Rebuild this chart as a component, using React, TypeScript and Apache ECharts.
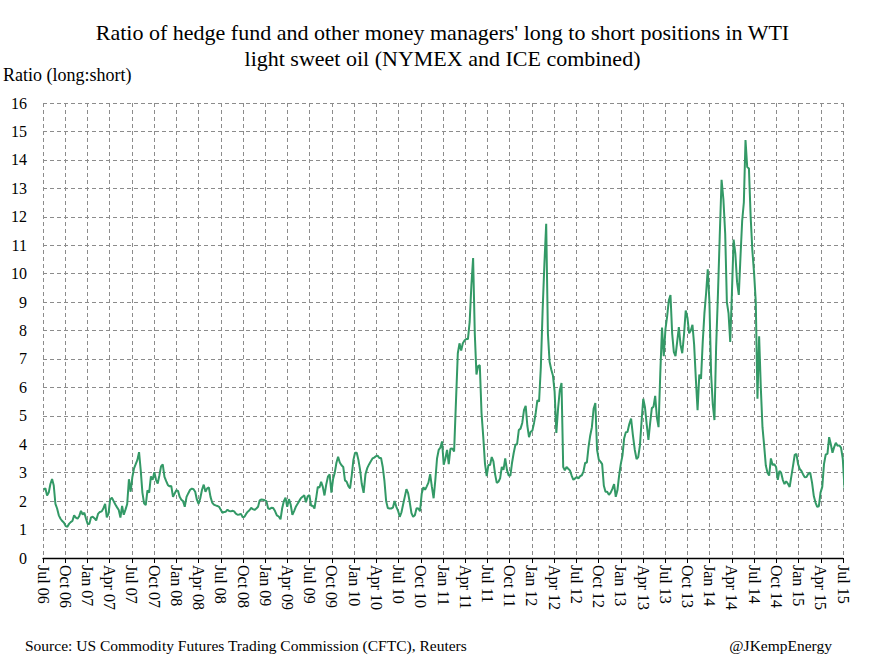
import React, { useEffect, useRef } from 'react';
import * as echarts from 'echarts';

const titleLines = [
  "Ratio of hedge fund and other money managers' long to short positions in WTI",
  'light sweet oil (NYMEX and ICE combined)',
];
const yAxisTitle = 'Ratio (long:short)';
const sourceText = 'Source: US Commodity Futures Trading Commission (CFTC), Reuters';
const handleText = '@JKempEnergy';

const quarterLabels = [
  'Jul 06', 'Oct 06', 'Jan 07', 'Apr 07', 'Jul 07', 'Oct 07', 'Jan 08', 'Apr 08',
  'Jul 08', 'Oct 08', 'Jan 09', 'Apr 09', 'Jul 09', 'Oct 09', 'Jan 10', 'Apr 10',
  'Jul 10', 'Oct 10', 'Jan 11', 'Apr 11', 'Jul 11', 'Oct 11', 'Jan 12', 'Apr 12',
  'Jul 12', 'Oct 12', 'Jan 13', 'Apr 13', 'Jul 13', 'Oct 13', 'Jan 14', 'Apr 14',
  'Jul 14', 'Oct 14', 'Jan 15', 'Apr 15', 'Jul 15',
];

// first weekly report date (Tuesday), then one value per week
const firstReport = { year: 2006, month: 6, day: 4 };
const axisStart = { year: 2006, month: 6 };

const ratioWeekly = [
  2.40, 2.45, 2.2, 2.3, 2.6, 2.78, 2.55, 1.9, 1.74, 1.5,
  1.38, 1.3, 1.24, 1.12, 1.1, 1.2, 1.26, 1.3, 1.5, 1.42,
  1.38, 1.48, 1.66, 1.53, 1.59, 1.38, 1.2, 1.2, 1.43, 1.45,
  1.4, 1.32, 1.55, 1.62, 1.64, 1.75, 1.9, 1.43, 1.55, 2.06,
  2.12, 2.0, 1.88, 1.78, 1.69, 1.42, 1.83, 1.52, 1.7, 1.9,
  2.77, 2.33, 2.85, 3.15, 3.3, 3.45, 3.72, 3.08, 2.3, 1.92,
  1.86, 2.38, 2.3, 2.87, 2.75, 3.02, 2.75, 2.62, 2.9, 3.22,
  3.29, 2.85, 2.7, 2.56, 2.52, 2.53, 2.15, 2.27, 2.38, 2.36,
  2.15, 2.05, 2.0, 1.8, 2.15, 2.28, 2.4, 2.44, 2.42, 2.33,
  2.05, 1.9, 2.1, 2.4, 2.58, 2.33, 2.45, 2.48, 2.15, 1.95,
  1.88, 1.85, 1.83, 1.8, 1.7, 1.59, 1.62, 1.63, 1.7, 1.65,
  1.64, 1.66, 1.64, 1.56, 1.52, 1.53, 1.55, 1.43, 1.45,
  1.55, 1.63, 1.68, 1.76, 1.72, 1.69, 1.74, 1.8, 2.03, 2.06, 2.05,
  2.03, 2.0, 1.75, 1.72, 1.77, 1.76, 1.65, 1.5, 1.46, 1.36,
  1.75, 2.0, 2.12, 1.8, 2.07, 1.88, 1.52, 1.65, 1.8, 1.9,
  2.0, 2.1, 2.15, 2.21, 1.96, 2.17, 2.21, 1.84, 1.84, 1.74,
  2.1, 2.5, 2.48, 2.68, 2.5, 2.2, 2.58, 2.86, 2.94, 2.3,
  2.78, 3.0, 3.35, 3.56, 3.36, 3.26, 3.2, 2.73, 2.68, 2.53,
  2.45, 2.9, 3.45, 3.7, 3.7, 3.45, 3.1, 2.6, 2.29, 2.95,
  3.17, 3.3, 3.4, 3.5, 3.53, 3.58, 3.6, 3.52, 3.52, 3.2,
  2.7, 2.0, 1.76, 1.74, 1.74, 1.77, 2.0, 1.8, 1.66, 1.45,
  1.6, 1.88, 2.15, 2.42, 2.28, 1.95, 1.58, 1.45, 1.5, 1.75,
  1.74, 1.65, 2.27, 2.49, 2.4, 2.52, 2.65, 2.95, 2.5, 2.1,
  2.75, 3.5, 3.8, 3.88, 4.1, 3.28, 3.5, 3.8, 3.3, 3.84,
  3.85, 3.75, 5.5, 7.2, 7.55, 7.3, 7.55, 7.65, 7.7, 7.7,
  8.3, 9.6, 10.55, 7.9, 6.45, 6.75, 6.78, 5.1, 4.27, 3.32,
  2.88, 3.27, 3.27, 3.55, 3.4, 2.95, 2.64, 2.68, 2.8, 3.2,
  3.1, 3.5, 3.1, 2.9, 2.9, 3.35, 3.7, 3.98, 4.0, 4.5,
  4.55, 4.75, 5.2, 5.35, 4.65, 4.25, 4.44, 4.48, 4.75, 5.1,
  5.55, 5.5, 6.7, 8.7, 10.35, 11.75, 7.9, 6.9, 6.63, 6.42,
  5.85, 4.4, 5.25, 5.9, 6.15, 3.2, 3.08, 3.2, 3.14, 3.08,
  2.9, 2.75, 2.8, 2.85, 2.8, 2.88, 2.91, 3.05, 3.35, 3.35,
  3.9, 4.3, 4.6, 5.25, 5.45, 3.8, 3.46, 3.39, 3.3, 2.55,
  2.33, 2.33, 2.22, 2.3, 2.43, 2.6, 2.15, 2.38, 2.9, 3.3,
  3.6, 4.2, 4.42, 4.43, 4.7, 4.9, 4.3, 3.8, 3.48, 3.55,
  3.95, 4.8, 5.6, 5.3, 4.7, 4.15, 4.75, 5.27, 5.32, 5.7,
  4.95, 4.6, 6.5, 8.1, 7.1, 8.05, 8.5, 9.05, 9.25, 7.9,
  7.25, 7.1, 7.6, 8.12, 7.5, 7.2, 7.85, 8.7, 8.45, 7.9,
  8.0, 8.2, 7.5, 6.3, 5.2, 6.45, 6.3, 7.6, 8.6, 9.3,
  10.15, 9.0, 6.47, 5.4, 4.85, 7.4, 9.2, 11.3, 13.3, 12.6,
  11.4, 9.0, 8.6, 7.6, 9.3, 11.2, 10.7, 9.7, 9.25, 10.6,
  11.85, 12.5, 14.7, 13.75, 13.7, 12.0, 10.8, 10.0, 9.0, 5.6,
  7.8, 6.0, 4.6, 3.95, 3.25, 3.0, 2.9, 3.5, 3.27, 3.3,
  3.2, 2.75, 3.06, 3.0, 2.75, 2.6, 2.7, 2.61, 2.5, 2.88,
  3.25, 3.63, 3.66, 3.3, 3.13, 3.06, 2.94, 2.84, 2.85, 2.96,
  3.0, 2.65, 2.17, 1.95, 1.8, 1.82, 2.3, 2.5, 3.3, 3.64,
  3.66, 4.25, 4.0, 3.7, 3.9, 4.05, 3.95, 3.96, 3.88, 3.5,
  2.5, 2.15,
];

const yTicks = { min: 0, max: 16, step: 1 };

const FONT = "'Liberation Serif', 'Times New Roman', serif";

// months elapsed since the start of the axis (fractional) for report k
function monthsOfReport(k: number): number {
  const d = new Date(Date.UTC(firstReport.year, firstReport.month, firstReport.day + 7 * k));
  const y = d.getUTCFullYear();
  const m = d.getUTCMonth();
  const day = d.getUTCDate();
  const dim = new Date(Date.UTC(y, m + 1, 0)).getUTCDate();
  return (y - axisStart.year) * 12 + (m - axisStart.month) + (day - 1) / dim;
}

export default function App() {
  const ref = useRef<HTMLDivElement>(null);

  useEffect(() => {
    if (!ref.current) return;
    const chart = echarts.init(ref.current, undefined, { renderer: 'svg' });
    const data = ratioWeekly.map((v, k) => [monthsOfReport(k), v]);
    const xMax = (quarterLabels.length - 1) * 3;

    chart.setOption({
      animation: false,
      backgroundColor: '#ffffff',
      title: {
        text: titleLines.join('\n'),
        left: 'center',
        top: 14,
        textStyle: {
          fontFamily: FONT,
          fontSize: 22,
          fontWeight: 'normal',
          color: '#000',
          lineHeight: 26,
        },
      },
      grid: { left: 43, right: 42, top: 103, bottom: 107, containLabel: false },
      xAxis: {
        type: 'value',
        min: 0,
        max: xMax,
        interval: 3,
        axisLine: { show: true, lineStyle: { color: '#000', width: 1.3 } },
        axisTick: { show: true, length: 5, lineStyle: { color: '#000', width: 1 } },
        axisLabel: {
          rotate: -90,
          margin: 7,
          fontFamily: FONT,
          fontSize: 16,
          color: '#000',
          formatter: (v: number) => {
            const i = Math.round(v / 3);
            return Math.abs(v - i * 3) < 1e-6 ? quarterLabels[i] ?? '' : '';
          },
        },
        splitLine: { show: true, lineStyle: { color: '#8c8c8c', type: [4, 3], width: 1 } },
      },
      yAxis: {
        type: 'value',
        min: yTicks.min,
        max: yTicks.max,
        interval: yTicks.step,
        axisLine: { show: false },
        axisTick: { show: false },
        axisLabel: { margin: 16, fontFamily: FONT, fontSize: 16, color: '#000' },
        splitLine: { show: true, lineStyle: { color: '#8c8c8c', type: [4, 3], width: 1 } },
      },
      series: [
        {
          type: 'line',
          data,
          showSymbol: false,
          symbol: 'none',
          clip: false,
          lineStyle: { color: '#339966', width: 2 },
          z: 5,
        },
      ],
      graphic: [
        {
          type: 'text',
          x: 3,
          y: 75,
          style: { text: yAxisTitle, font: `18px ${FONT}`, fill: '#000', align: 'left', verticalAlign: 'middle' },
        },
        {
          type: 'text',
          x: 25,
          y: 645,
          style: { text: sourceText, font: `15.5px ${FONT}`, fill: '#000', align: 'left', verticalAlign: 'middle' },
        },
        {
          type: 'text',
          x: 832,
          y: 645,
          style: { text: handleText, font: `15.5px ${FONT}`, fill: '#000', align: 'right', verticalAlign: 'middle' },
        },
      ],
    });

    return () => chart.dispose();
  }, []);

  return (
    <div
      ref={ref}
      style={{ position: 'absolute', left: 0, top: 0, width: 885, height: 665, background: '#fff' }}
    />
  );
}
